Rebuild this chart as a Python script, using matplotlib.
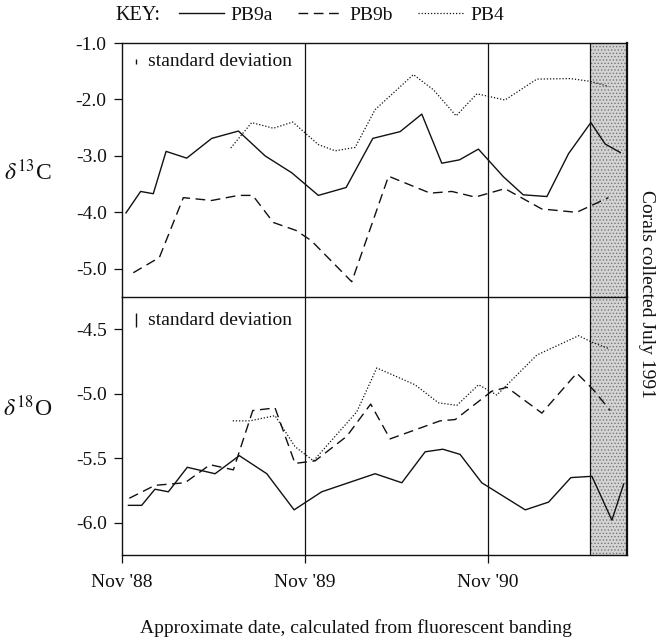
import matplotlib
matplotlib.use("Agg")
import matplotlib.pyplot as plt
from matplotlib.lines import Line2D

plt.rcParams['font.family'] = 'serif'
plt.rcParams['font.serif'] = ['Liberation Serif', 'DejaVu Serif']
plt.rcParams['mathtext.fontset'] = 'stix'
plt.rcParams['axes.unicode_minus'] = False
plt.rcParams['hatch.linewidth'] = 0.6

# months since Nov 1988
c13_pb9a_m = [0.26, 1.22, 2.05, 2.89, 4.24, 5.88, 7.63, 9.38, 11.13, 12.87, 14.69, 16.44,
              18.23, 19.65, 20.96, 22.12, 23.36, 25.0, 26.3, 27.85, 29.27, 30.73, 31.67, 32.66]
c13_pb9a_v = [-4.01, -3.63, -3.67, -2.92, -3.04, -2.69, -2.56, -3.00, -3.30, -3.70, -3.56, -2.69,
              -2.57, -2.26, -3.13, -3.07, -2.88, -3.37, -3.69, -3.72, -2.96, -2.41, -2.79, -2.94]

c13_pb9b_m = [0.74, 2.45, 4.02, 5.88, 7.63, 8.57, 9.92, 11.4, 12.4, 15.06, 17.47, 20.2,
              21.62, 23.15, 25.1, 27.51, 29.8, 31.88]
c13_pb9b_v = [-5.07, -4.80, -3.74, -3.79, -3.70, -3.70, -4.18, -4.32, -4.50, -5.23, -3.36, -3.66,
              -3.63, -3.73, -3.58, -3.94, -4.00, -3.74]

c13_pb4_m = [7.13, 8.5, 9.92, 11.19, 12.87, 13.97, 15.28, 16.59, 19.1, 20.42, 21.9, 23.26,
             25.1, 27.19, 29.4, 30.7, 31.9]
c13_pb4_v = [-2.86, -2.41, -2.51, -2.40, -2.80, -2.91, -2.85, -2.18, -1.56, -1.83, -2.29, -1.90,
             -2.01, -1.64, -1.63, -1.68, -1.77]

o18_pb9a_m = [0.42, 1.29, 2.16, 3.04, 4.28, 6.1, 7.69, 9.49, 11.28, 13.09, 16.59, 18.34,
              19.87, 21.03, 22.16, 23.58, 26.43, 27.96, 29.42, 30.8, 32.11, 32.88]
o18_pb9a_v = [-5.865, -5.865, -5.74, -5.76, -5.57, -5.62, -5.48, -5.62, -5.90, -5.76, -5.62, -5.69,
              -5.45, -5.43, -5.47, -5.69, -5.90, -5.84, -5.65, -5.64, -5.98, -5.70]

o18_pb9b_m = [0.48, 2.16, 4.13, 5.77, 7.3, 8.57, 10.03, 11.34, 12.66, 14.73, 16.3, 17.57,
              20.85, 21.84, 24.24, 25.23, 27.52, 29.81, 30.9, 32.0]
o18_pb9b_v = [-5.81, -5.71, -5.69, -5.55, -5.59, -5.13, -5.11, -5.54, -5.52, -5.33, -5.08, -5.35,
              -5.21, -5.20, -4.98, -4.95, -5.15, -4.84, -4.97, -5.13]

o18_pb4_m = [7.26, 8.39, 10.03, 11.34, 12.55, 15.39, 16.7, 19.2, 20.74, 21.95, 23.37, 24.57,
             27.19, 29.93, 30.8, 31.9]
o18_pb4_v = [-5.21, -5.21, -5.17, -5.41, -5.52, -5.14, -4.80, -4.93, -5.07, -5.09, -4.93, -5.01,
             -4.70, -4.55, -4.60, -4.65]

x_ticks = [0, 12, 24]
x_ticklabels = ["Nov '88", "Nov '89", "Nov '90"]
c13_ticks = [-1.0, -2.0, -3.0, -4.0, -5.0]
o18_ticks = [-4.5, -5.0, -5.5, -6.0]
collection_start = 30.7
x_end = 33.1
sd_c13 = 0.08
sd_o18 = 0.11

series_names = ["PB9a", "PB9b", "PB4"]
col = '#111111'
styles = [dict(color=col, lw=1.0, ls='-'),
          dict(color=col, lw=1.0, ls=(0, (7, 4))),
          dict(color=col, lw=0.9, ls=(0, (1, 1.5)))]

W, H = 659, 640
fig = plt.figure(figsize=(W / 100, H / 100), dpi=100)
L, R = 122 / W, 627 / W
ax1 = fig.add_axes([L, 1 - 297 / H, R - L, (297 - 43) / H])
ax2 = fig.add_axes([L, 1 - 555 / H, R - L, (555 - 297) / H])

top = [(c13_pb9a_m, c13_pb9a_v), (c13_pb9b_m, c13_pb9b_v), (c13_pb4_m, c13_pb4_v)]
bot = [(o18_pb9a_m, o18_pb9a_v), (o18_pb9b_m, o18_pb9b_v), (o18_pb4_m, o18_pb4_v)]

for ax, data in ((ax1, top), (ax2, bot)):
    for (m, v), st, name in zip(data, styles, series_names):
        ax.plot(m, v, label=name, **st)
    ax.axvspan(collection_start, x_end, facecolor='#d4d4d4', edgecolor='#777777',
               hatch='.....', lw=0, zorder=0)
    ax.axvline(collection_start, color=col, lw=0.9)
    for xt in x_ticks[1:]:
        ax.axvline(xt, color=col, lw=0.9)
    ax.set_xlim(0, x_end)
    for s in ax.spines.values():
        s.set_linewidth(1.0)
        s.set_color(col)
    ax.spines['right'].set_linewidth(1.6)
    ax.tick_params(axis='y', direction='out', length=6, width=0.9, pad=5,
                   labelsize=14, colors=col)

ax1.set_ylim(-5.5, -1.0)
ax1.set_yticks(c13_ticks)
ax1.set_yticklabels([f"{t:.1f}" for t in c13_ticks])
ax1.set_xticks([])
ax2.set_ylim(-6.25, -4.25)
ax2.set_yticks(o18_ticks)
ax2.set_yticklabels([f"{t:.1f}" for t in o18_ticks])
ax2.set_xticks(x_ticks)
ax2.set_xticklabels(x_ticklabels)
ax2.tick_params(axis='x', direction='out', length=6, width=0.9, pad=8,
                labelsize=14, colors=col)
ax1.spines['bottom'].set_visible(False)

# standard deviation indicators
ax1.errorbar([0.92], [-1.33], yerr=[sd_c13 / 2], fmt='none', ecolor=col, elinewidth=1.0, capsize=0)
ax1.text(1.7, -1.33, "standard deviation", fontsize=14, va='center', ha='left', color=col)
ax2.errorbar([0.92], [-4.43], yerr=[sd_o18 / 2], fmt='none', ecolor=col, elinewidth=1.0, capsize=0)
ax2.text(1.7, -4.43, "standard deviation", fontsize=14, va='center', ha='left', color=col)

# axis labels
fig.text(28 / W, 1 - 172 / H, r"$\delta^{13}$C", fontsize=17, ha='center', va='center', color=col)
fig.text(28 / W, 1 - 408 / H, r"$\delta^{18}$O", fontsize=17, ha='center', va='center', color=col)
fig.text(356 / W, 1 - 628 / H, "Approximate date, calculated from fluorescent banding",
         fontsize=14, ha='center', va='center', color=col)
fig.text(647 / W, 1 - 294 / H, "Corals collected July 1991", fontsize=14, rotation=-90,
         ha='center', va='center', color=col)

# key
fig.text(115 / W, 1 - 16 / H, "KEY:", fontsize=14.5, ha='left', va='center', color=col)
handles = [Line2D([0], [0], **st) for st in styles]
leg = fig.legend(handles, series_names, loc='center left', bbox_to_anchor=(179 / W, 1 - 15 / H),
                 ncol=3, frameon=False, fontsize=14,
                 handlelength=2.3, handletextpad=0.35,
                 columnspacing=1.3, borderpad=0, borderaxespad=0)
for t in leg.get_texts():
    t.set_color(col)

fig.savefig("out.png", dpi=100)
